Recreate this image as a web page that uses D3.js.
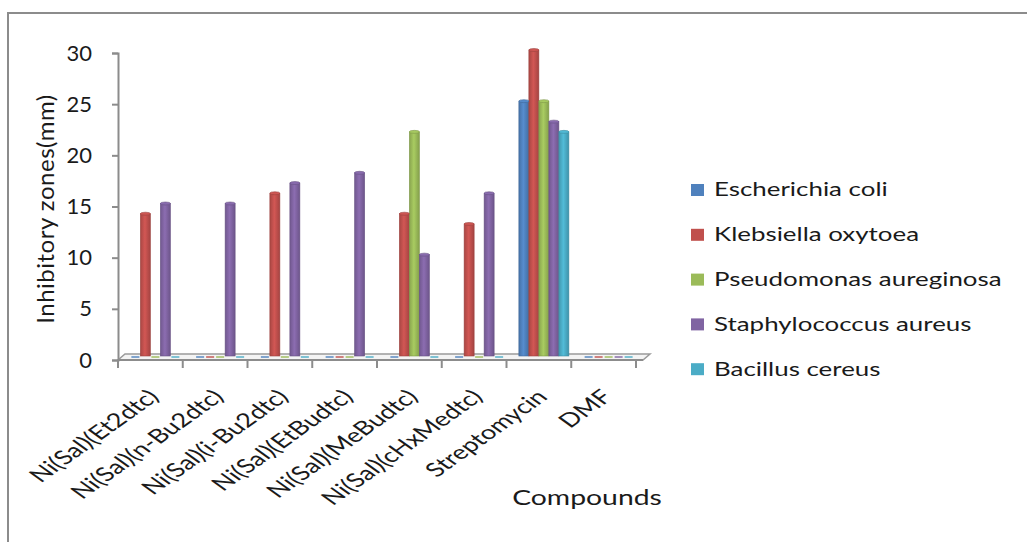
<!DOCTYPE html>
<html>
<head>
<meta charset="utf-8">
<script src="https://cdn.jsdelivr.net/npm/d3@7"></script>
<style>
  body { margin: 0; background: #fff; }
  text { font-family: Lato, "Open Sans", sans-serif; fill: #1a1a1a; }
</style>
</head>
<body>
<div id="container"></div>
<script>
var width = 1027,
    height = 542;

// data
var compounds = ["Ni(Sal)(Et2dtc)", "Ni(Sal)(n-Bu2dtc)", "Ni(Sal)(i-Bu2dtc)", "Ni(Sal)(EtBudtc)",
                 "Ni(Sal)(MeBudtc)", "Ni(Sal)(cHxMedtc)", "Streptomycin", "DMF"];
var seriesNames = ["Escherichia coli", "Klebsiella oxytoea", "Pseudomonas aureginosa",
                   "Staphylococcus aureus", "Bacillus cereus"];
var ecoli  = [0, 0, 0, 0, 0, 0, 25, 0];
var kleb   = [14, 0, 16, 0, 14, 13, 30, 0];
var pseudo = [0, 0, 0, 0, 22, 0, 25, 0];
var staph  = [15, 15, 17, 18, 10, 16, 23, 0];
var bacil  = [0, 0, 0, 0, 0, 0, 22, 0];
var yTicks = [0, 5, 10, 15, 20, 25, 30];
var colors = ["#4F81BD", "#C0504D", "#9BBB59", "#8064A2", "#4BACC6"];

var seriesValues = [ecoli, kleb, pseudo, staph, bacil];

// the original picture is stretched sideways, so the text is too
var sx = 1.4;

var svg = d3.select("#container").append("svg")
    .attr("width", width)
    .attr("height", height);

// outer frame (only top and left edges are in view)
svg.append("rect")
    .attr("x", 8).attr("y", 13)
    .attr("width", 1200).attr("height", 700)
    .attr("fill", "none")
    .attr("stroke", "#8c8c8c")
    .attr("stroke-width", 2);

var x0 = d3.scaleBand()
    .domain(compounds)
    .range([118, 636]);

var x1 = d3.scaleBand()
    .domain(seriesNames)
    .range([0, 50]);

var y = d3.scaleLinear()
    .domain([0, 30])
    .range([360, 53]);

// 3d depth shift
var dx = 6, dy = -3;

// gradients for the cylinder-ish bars
var defs = svg.append("defs");
colors.forEach(function(c, i) {
    var g = defs.append("linearGradient")
        .attr("id", "grad" + i)
        .attr("x1", "0%").attr("x2", "100%");
    var base = d3.color(c);
    g.append("stop").attr("offset", "0%").attr("stop-color", base.darker(0.35));
    g.append("stop").attr("offset", "45%").attr("stop-color", base.brighter(0.25));
    g.append("stop").attr("offset", "100%").attr("stop-color", base.darker(0.45));
});

// floor
var fl = 118, fr = 643, fy = y(0);
svg.append("path")
    .attr("d", "M" + fl + "," + fy + "L" + fr + "," + fy + "L" + (fr + 7) + "," + (fy - 6) +
               "L" + (fl + 7) + "," + (fy - 6) + "Z")
    .attr("fill", "#f4f4f4")
    .attr("stroke", "#9a9a9a")
    .attr("stroke-width", 1.5);
svg.append("line")
    .attr("x1", fl).attr("x2", fr)
    .attr("y1", fy).attr("y2", fy)
    .attr("stroke", "#8c8c8c")
    .attr("stroke-width", 2);

// y axis
var yAxis = d3.axisLeft(y)
    .tickValues(yTicks)
    .tickSize(6)
    .tickPadding(20);

var gy = svg.append("g")
    .attr("transform", "translate(118,0)")
    .call(yAxis);
gy.select(".domain").attr("stroke", "#8c8c8c").attr("stroke-width", 2);
gy.selectAll(".tick line").attr("stroke", "#8c8c8c").attr("stroke-width", 2);
gy.selectAll(".tick text")
    .style("font-size", "22px")
    .attr("fill", "#1a1a1a");

// category ticks under the floor
var boundaries = compounds.map(function(c) { return x0(c); }).concat([x0.range()[1]]);
svg.selectAll("line.ctick")
    .data(boundaries)
    .enter().append("line")
    .attr("class", "ctick")
    .attr("x1", function(d) { return d; })
    .attr("x2", function(d) { return d; })
    .attr("y1", fy)
    .attr("y2", fy + 8)
    .attr("stroke", "#8c8c8c")
    .attr("stroke-width", 2);

// bars
var barData = [];
compounds.forEach(function(c, ci) {
    seriesNames.forEach(function(s, si) {
        barData.push({ cat: c, series: s, si: si, value: seriesValues[si][ci] });
    });
});

var bw = x1.bandwidth();
var gap = (x0.bandwidth() - 50) / 2;
function bx(d) { return x0(d.cat) + gap + x1(d.series) + dx - 1; }

var bars = svg.append("g");
bars.selectAll("rect.stub")
    .data(barData.filter(function(d) { return d.value === 0; }))
    .enter().append("rect")
    .attr("class", "stub")
    .attr("x", function(d) { return bx(d) + 1; })
    .attr("y", fy - 4)
    .attr("width", bw - 2)
    .attr("height", 2)
    .attr("fill", function(d) { return colors[d.si]; })
    .attr("opacity", 0.7);

var full = barData.filter(function(d) { return d.value > 0; });
bars.selectAll("rect.bar")
    .data(full)
    .enter().append("rect")
    .attr("class", "bar")
    .attr("x", function(d) { return bx(d); })
    .attr("y", function(d) { return y(d.value) + dy; })
    .attr("width", bw)
    .attr("height", function(d) { return y(0) - y(d.value) - 1; })
    .attr("fill", function(d) { return "url(#grad" + d.si + ")"; })
    .attr("stroke", function(d) { return d3.color(colors[d.si]).darker(0.6); })
    .attr("stroke-width", 0.6);

bars.selectAll("ellipse.cap")
    .data(full)
    .enter().append("ellipse")
    .attr("class", "cap")
    .attr("cx", function(d) { return bx(d) + bw / 2; })
    .attr("cy", function(d) { return y(d.value) + dy; })
    .attr("rx", bw / 2)
    .attr("ry", 1.5)
    .attr("fill", function(d) { return d3.color(colors[d.si]).brighter(0.2); })
    .attr("stroke", function(d) { return d3.color(colors[d.si]).darker(0.6); })
    .attr("stroke-width", 0.6);

// category labels
svg.selectAll("text.cat")
    .data(compounds)
    .enter().append("text")
    .attr("class", "cat")
    .attr("text-anchor", "end")
    .attr("transform", function(d) {
        return "translate(" + (x0(d) + x0.bandwidth() / 2 + 10) + "," + 398 + ") scale(" + sx + ",1) rotate(-45)";
    })
    .style("font-size", "19.5px")
    .text(function(d) { return d; });

// axis titles
svg.append("text")
    .attr("transform", "translate(54,209) rotate(-90)")
    .attr("text-anchor", "middle")
    .style("font-size", "24px")
    .style("letter-spacing", "0.5px")
    .text("Inhibitory zones(mm)");

svg.append("text")
    .attr("transform", "translate(587,505) scale(" + 1.35 + ",1)")
    .attr("text-anchor", "middle")
    .style("font-size", "21px")
    .text("Compounds");

// legend
var legend = svg.append("g")
    .selectAll("g")
    .data(seriesNames)
    .enter().append("g")
    .attr("transform", function(d, i) { return "translate(691," + (190 + i * 44.8) + ")"; });

legend.append("rect")
    .attr("x", 0).attr("y", -6)
    .attr("width", 13).attr("height", 12)
    .attr("fill", function(d, i) { return colors[i]; });

legend.append("text")
    .attr("transform", "translate(23,0) scale(" + sx + ",1)")
    .attr("dy", "0.35em")
    .style("font-size", "18.5px")
    .text(function(d) { return d; });
</script>
</body>
</html>
